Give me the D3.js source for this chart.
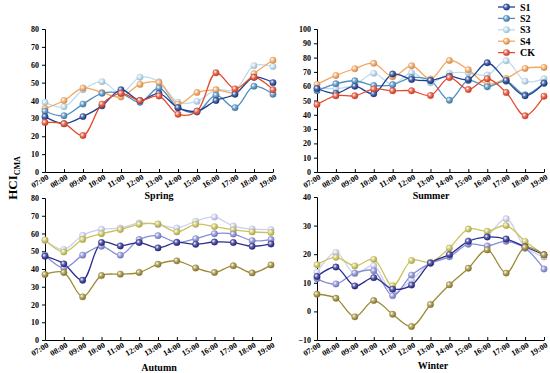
<!DOCTYPE html>
<html><head><meta charset="utf-8">
<script src="https://cdn.jsdelivr.net/npm/d3@7"></script>
<style>body{margin:0;background:#fff}svg{display:block}text{font-family:"Liberation Serif","Times New Roman",serif;font-weight:bold}</style>
</head><body><svg id="c" width="550" height="373"></svg>
<script>
const hours = ["07:00","08:00","09:00","10:00","11:00","12:00","13:00","14:00","15:00","16:00","17:00","18:00","19:00"];
const seriesNames = ["S1","S2","S3","S4","CK"];

const springS1 = [31,27,31,37,46,40,44,36,34,40,43.5,53,50];
const springS2 = [34,31.5,38,44,44,39,47,36,33.5,43,36,48,43.5];
const springS3 = [39,36.5,46,50.5,44,53,50.5,39,39.5,46,46,59.5,59];
const springS4 = [35.5,40,47,44.5,42,49,50,38,44.5,46,44.5,55,62.5];
const springCK = [27.7,27,20.4,38,44,40,42.5,32.3,34,55.5,46.5,53,46];

const summerS1 = [58.4,55,60,54.7,68.5,64.7,64,67,64.7,76.4,64,53.3,62];
const summerS2 = [56.8,61.7,63.8,60.5,61,66,64,50.2,64,59.6,63.5,54,62.4];
const summerS3 = [59,58.4,61,69,61.2,69.4,62.4,69,69.4,67.8,77.8,63.5,65.2];
const summerS4 = [61.2,67.5,72.2,76,66.6,74.3,65,78,71.5,61.4,65.4,72.4,73.1];
const summerCK = [47.2,53.3,53.3,58,56.8,56.8,53.5,66,57.7,65.2,55.6,39.3,53];

const autumnS1 = [47.2,42.9,33.7,54.9,53,54.9,51.9,55,53.9,55.2,54.9,52.8,54.1];
const autumnS2 = [47.8,40.6,47.8,52.8,47.8,56.6,58.8,55,57.1,59.9,59.7,56,56.6];
const autumnS3 = [56,51,59,62.4,63.1,65.9,65,63.1,66.9,69.3,64.2,62.5,62.2];
const autumnS4 = [56.4,49.6,56.6,59.9,62.2,65.2,65.4,60.9,65.2,63.9,62,60.9,60.5];
const autumnCK = [36.9,38,24.3,36.3,37.1,38,42.7,44.6,40.6,38,41.8,37.8,42.3];

const winterS1 = [12.2,15.5,8.9,11.8,7.8,9.2,16.9,19.9,24.5,26,25.3,22.6,19.8];
const winterS2 = [11.4,9.6,13.4,14.2,5.5,12.7,16.8,19.1,23.5,22.9,24.5,22.1,14.8];
const winterS3 = [13.7,20.6,13.2,16,6.5,11,17,19.5,24.7,26.6,32.4,22.5,19];
const winterS4 = [16.3,18.9,15.9,18.2,9,17.8,17.2,22.2,28.8,28,30,24.5,19.8];
const winterCK = [6,4.6,-1.9,3.8,-1,-5.3,2.4,9.3,15.1,21.5,13.4,22.4,19.8];

const springTicks = [0,10,20,30,40,50,60,70,80];
const summerTicks = [0,10,20,30,40,50,60,70,80,90,100];
const autumnTicks = [0,10,20,30,40,50,60,70,80];
const winterTicks = [-10,0,10,20,30,40];

const warmColors = ["#1f3f93","#4e8ec0","#bcdcf0","#f7a65e","#e64a2d"];
const coolColors = ["#2b2e8e","#888dd6","#cdd1f0","#cbc35a","#9e8a35"];

const panels = [
  {title:"Spring", data:[springS1,springS2,springS3,springS4,springCK], ticks:springTicks, dom:[0,80], x:[45,273], y:[172,29], colors:warmColors, tx:159, ty:199},
  {title:"Summer", data:[summerS1,summerS2,summerS3,summerS4,summerCK], ticks:summerTicks, dom:[0,100], x:[317,544], y:[172,29], colors:warmColors, tx:431, ty:199},
  {title:"Autumn", data:[autumnS1,autumnS2,autumnS3,autumnS4,autumnCK], ticks:autumnTicks, dom:[0,80], x:[45,271], y:[340,198], colors:coolColors, tx:159, ty:371},
  {title:"Winter", data:[winterS1,winterS2,winterS3,winterS4,winterCK], ticks:winterTicks, dom:[-10,40], x:[317,544], y:[340,197], colors:coolColors, tx:433, ty:369}
];

const svg = d3.select("#c");
const defs = svg.append("defs");
const allColors = warmColors.concat(coolColors);
allColors.forEach((c,i)=>{
  const g = defs.append("radialGradient").attr("id","g"+i).attr("cx","35%").attr("cy","35%").attr("r","65%");
  g.append("stop").attr("offset","0%").attr("stop-color","#ffffff");
  g.append("stop").attr("offset","45%").attr("stop-color",d3.interpolateRgb(c,"#ffffff")(0.25));
  g.append("stop").attr("offset","100%").attr("stop-color",d3.color(c).darker(0.5));
});
function gradId(c){return "url(#g"+allColors.indexOf(c)+")";}

panels.forEach(p=>{
  const x = d3.scalePoint().domain(hours).range(p.x);
  const y = d3.scaleLinear().domain(p.dom).range(p.y);
  const g = svg.append("g");
  const ya = g.append("g").attr("transform",`translate(${p.x[0]},0)`)
    .call(d3.axisLeft(y).tickValues(p.ticks).tickSize(3).tickPadding(3));
  ya.select(".domain").attr("stroke","#000").attr("stroke-width",1);
  ya.selectAll(".tick line").attr("stroke","#000");
  ya.selectAll("text").attr("font-size",8).attr("fill","#000").style("font-family","Liberation Serif").style("font-weight","bold");
  const xa = g.append("g").attr("transform",`translate(0,${p.y[0]})`)
    .call(d3.axisBottom(x).tickSize(-3).tickSizeOuter(0).tickPadding(0));
  xa.select(".domain").attr("stroke","#000").attr("stroke-width",1);
  xa.selectAll(".tick line").attr("stroke","#000");
  xa.selectAll("text").attr("font-size",8).attr("fill","#000").style("font-family","Liberation Serif").style("font-weight","bold")
    .attr("text-anchor","end").attr("x",0).attr("y",0).attr("dy","0.7em").attr("transform","translate(1,2) rotate(-30)");
  const line = d3.line().x((d,i)=>x(hours[i])).y(d=>y(d)).curve(d3.curveCatmullRom.alpha(0.5));
  const order = [2,3,1,0,4];
  order.forEach(k=>{
    g.append("path").datum(p.data[k]).attr("d",line).attr("fill","none")
      .attr("stroke",p.colors[k]).attr("stroke-width",1.3);
  });
  order.forEach(k=>{
    g.selectAll(null).data(p.data[k]).enter().append("circle")
      .attr("cx",(d,i)=>x(hours[i])).attr("cy",d=>y(d)).attr("r",3.2)
      .attr("fill",gradId(p.colors[k])).attr("stroke",d3.color(p.colors[k]).darker(0.3)).attr("stroke-width",0.4);
  });
  g.append("text").attr("x",p.tx).attr("y",p.ty).attr("text-anchor","middle").attr("font-size",10).text(p.title);
});

const yl = svg.append("text").attr("transform","translate(17,178) rotate(-90)").attr("text-anchor","middle").attr("font-size",13);
yl.append("tspan").text("HCI");
yl.append("tspan").attr("font-size",8).attr("dy",3).text("CMA");

const lg = svg.append("g");
seriesNames.forEach((n,i)=>{
  const yy = 7 + i*11.4;
  lg.append("line").attr("x1",498).attr("x2",515).attr("y1",yy).attr("y2",yy).attr("stroke",warmColors[i]).attr("stroke-width",1.3);
  lg.append("circle").attr("cx",506.5).attr("cy",yy).attr("r",3.2).attr("fill",gradId(warmColors[i])).attr("stroke",d3.color(warmColors[i]).darker(0.3)).attr("stroke-width",0.4);
  lg.append("text").attr("x",520).attr("y",yy+3.5).attr("font-size",10).text(n);
});
</script></body></html>
